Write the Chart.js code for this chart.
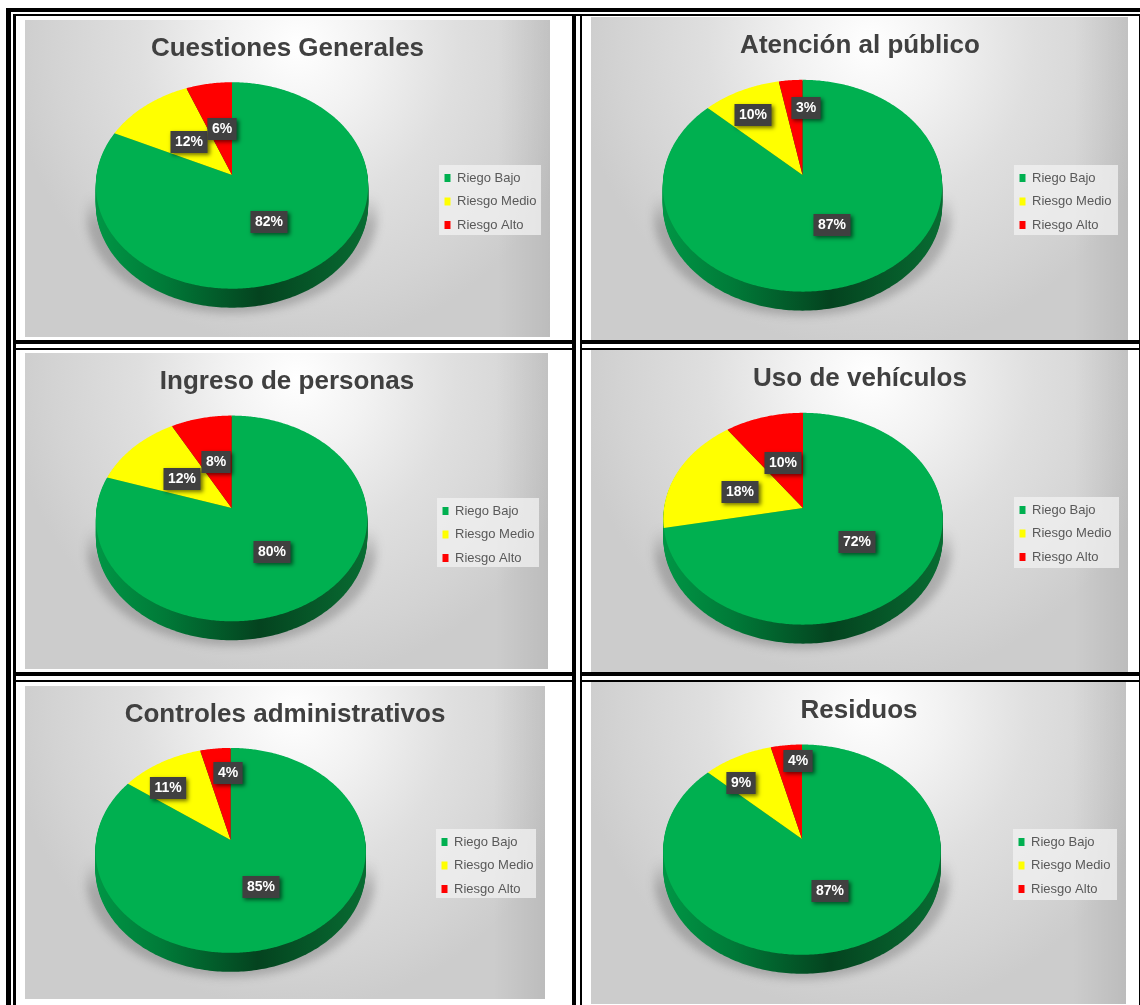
<!DOCTYPE html>
<html>
<head>
<meta charset="utf-8">
<style>
  html, body { margin: 0; padding: 0; background: #fff; overflow: hidden; }
  body { width: 1140px; height: 1005px; position: relative; }
  .line { position: absolute; background: #000; }
  .panel { position: absolute; background: linear-gradient(to right, rgba(0,0,0,0) 90%, rgba(0,0,0,0.08) 100%), radial-gradient(ellipse 55% 95% at 52% 8%, #ffffff 0%, #f2f2f2 25%, #dfdfdf 55%, #d3d3d3 85%, #cccccc 100%); }
</style>
</head>
<body>
<script src="https://cdn.jsdelivr.net/npm/chart.js@4"></script>
<script>
// Data, one list per chart
const categories = ['Riego Bajo', 'Riesgo Medio', 'Riesgo Alto'];
const titles = ['Cuestiones Generales', 'Atención al público', 'Ingreso de personas', 'Uso de vehículos', 'Controles administrativos', 'Residuos'];
const cuestiones = [82, 12, 6];
const atencion = [87, 10, 3];
const ingreso = [80, 12, 8];
const vehiculos = [72, 18, 10];
const controles = [85, 11, 4];
const residuos = [87, 9, 4];
const seriesValues = [cuestiones, atencion, ingreso, vehiculos, controles, residuos];
const sliceColors = ['#00b050', '#ffff00', '#ff0000'];

// Where things sit on the page
const panels = [
  { x: 25, y: 20, w: 525, h: 317, cx: 232, cy: 175, r: 135.5, titleX: 287.5, titleY: 47, legend: [439, 165, 102, 70], labels: [[269, 222], [189, 142], [222, 129]] },
  { x: 591, y: 17, w: 537, h: 323, cx: 802.5, cy: 175, r: 139, titleX: 860, titleY: 44, legend: [1014, 165, 104, 70], labels: [[832, 225], [753, 115], [806, 108]] },
  { x: 25, y: 353, w: 523, h: 316, cx: 231.6, cy: 508, r: 135, titleX: 287, titleY: 380, legend: [437, 498, 102, 69], labels: [[272, 552], [182, 479], [216, 462]] },
  { x: 591, y: 350, w: 537, h: 322, cx: 803, cy: 508, r: 139, titleX: 860, titleY: 377, legend: [1014, 497, 105, 71], labels: [[857, 542], [740, 492], [783, 463]] },
  { x: 25, y: 686, w: 520, h: 313, cx: 230.6, cy: 840, r: 134.5, titleX: 285, titleY: 713, legend: [436, 829, 100, 69], labels: [[261, 887], [168, 788], [228, 773]] },
  { x: 591, y: 682, w: 535, h: 322, cx: 802, cy: 839, r: 138, titleX: 859, titleY: 709, legend: [1013, 829, 104, 71], labels: [[830, 891], [741, 783], [798, 761]] }
];

// Black double lines of the table around the charts: x, y, w, h
const frameLines = [
  [6, 8, 1134, 4], [13, 14, 1127, 2],
  [6, 8, 5, 997], [13, 14, 3, 991],
  [572, 14, 4, 991], [580, 14, 2, 991], [1139, 14, 1, 991],
  [13, 340, 563, 4], [580, 340, 560, 4], [13, 348, 563, 2], [580, 348, 560, 2],
  [13, 672, 563, 4], [580, 672, 560, 4], [13, 680, 563, 2], [580, 680, 560, 2]
];

frameLines.forEach(function (l) {
  const d = document.createElement('div');
  d.className = 'line';
  d.style.cssText = 'left:' + l[0] + 'px;top:' + l[1] + 'px;width:' + l[2] + 'px;height:' + l[3] + 'px';
  document.body.appendChild(d);
});

const TILT = 0.754;      // how flat the pie lies
const PERSP = 0.1014;    // far edge smaller than near edge
const DEPTH = 19;
const TITLE_SIZE = 26;

// point on the pie for an angle in chart.js radians
function project(arc, angle, r) {
  const u = Math.cos(angle), v = -Math.sin(angle);
  const w = 1 + PERSP * v;
  return [arc.x + r * u / w, arc.y - r * TILT * v / w];
}

function outline(ctx, arc, dy) {
  ctx.beginPath();
  for (let a = 0; a < 360; a++) {
    const p = project(arc, a * Math.PI / 180, arc.outerRadius);
    if (a === 0) ctx.moveTo(p[0], p[1] + dy); else ctx.lineTo(p[0], p[1] + dy);
  }
  ctx.closePath();
}

const tiltedPie = {
  id: 'tiltedPie',
  afterLayout(chart, args, opts) {
    const p = opts.panel;
    const t = chart.titleBlock;
    t.left = 0;
    t.right = chart.width + 2 * (p.titleX - p.x - p.w / 2);
    t.top = p.titleY - p.y - TITLE_SIZE * 0.6 + 2;
    t.bottom = t.top + t.height;
    const l = chart.legend;
    l.left = p.legend[0] - p.x - 5;
    l.right = l.left + p.legend[2] + 30;
    l.top = p.legend[1] - p.y - 4;
    l.bottom = l.top + 200;
  },
  beforeDraw(chart, args, opts) {
    const p = opts.panel, ctx = chart.ctx;
    ctx.save();
    ctx.fillStyle = 'rgba(242,242,242,0.75)';
    ctx.fillRect(p.legend[0] - p.x, p.legend[1] - p.y, p.legend[2], p.legend[3]);
    ctx.restore();
  },
  beforeDatasetDraw(chart, args, opts) {
    const p = opts.panel, ctx = chart.ctx;
    const arcs = chart.getDatasetMeta(0).data;
    const first = arcs[0];
    const left = first.x - first.outerRadius, right = first.x + first.outerRadius;

    // soft shadow under the pie
    ctx.save();
    ctx.filter = 'blur(4px)';
    const sh = ctx.createLinearGradient(0, first.y + 20, 0, first.y + 50);
    sh.addColorStop(0, 'rgba(60,60,60,0)');
    sh.addColorStop(1, 'rgba(60,60,60,0.28)');
    ctx.fillStyle = sh;
    ctx.beginPath();
    ctx.ellipse(first.x, first.y + 40, first.outerRadius + 10, first.outerRadius * TILT - 4, 0, 0, Math.PI * 2);
    ctx.fill();
    ctx.restore();

    // side of the pie
    const side = ctx.createLinearGradient(left, 0, right, 0);
    side.addColorStop(0, '#009645');
    side.addColorStop(0.25, '#007a38');
    side.addColorStop(0.6, '#04431f');
    side.addColorStop(1, '#086c32');
    ctx.fillStyle = side;
    for (let d = DEPTH; d > 0; d--) {
      outline(ctx, first, d);
      ctx.fill();
    }

    // top face, slice angles come from the library's arc elements
    arcs.forEach(function (arc, i) {
      ctx.beginPath();
      ctx.moveTo(arc.x, arc.y);
      const steps = Math.max(2, Math.ceil((arc.endAngle - arc.startAngle) * 90));
      for (let s = 0; s <= steps; s++) {
        const q = project(arc, arc.startAngle + (arc.endAngle - arc.startAngle) * s / steps, arc.outerRadius);
        ctx.lineTo(q[0], q[1]);
      }
      ctx.closePath();
      ctx.fillStyle = sliceColors[i];
      ctx.fill();
    });

    // value labels
    ctx.font = 'bold 14px "Liberation Sans"';
    ctx.textAlign = 'center';
    ctx.textBaseline = 'middle';
    chart.data.datasets[0].data.forEach(function (v, i) {
      const text = v + '%';
      const w = ctx.measureText(text).width + 9;
      const lx = p.labels[i][0] - p.x, ly = p.labels[i][1] - p.y;
      ctx.save();
      ctx.shadowColor = 'rgba(0,0,0,0.55)';
      ctx.shadowBlur = 4;
      ctx.shadowOffsetX = 2;
      ctx.shadowOffsetY = 2;
      ctx.fillStyle = '#404040';
      ctx.fillRect(lx - w / 2, ly - 11, w, 22);
      ctx.restore();
      ctx.fillStyle = '#ffffff';
      ctx.fillText(text, lx, ly + 0.5);
    });
    return false;
  }
};

panels.forEach(function (p, i) {
  const box = document.createElement('div');
  box.className = 'panel';
  box.style.cssText = 'left:' + p.x + 'px;top:' + p.y + 'px;width:' + p.w + 'px;height:' + p.h + 'px';
  const canvas = document.createElement('canvas');
  box.appendChild(canvas);
  document.body.appendChild(box);

  // chart area is centred on the tip of the pie
  const titleHeight = TITLE_SIZE * 1.2;
  new Chart(canvas, {
    type: 'pie',
    data: {
      labels: categories,
      datasets: [{ data: seriesValues[i], backgroundColor: sliceColors, borderWidth: 0, radius: p.r }]
    },
    plugins: [tiltedPie],
    options: {
      responsive: true,
      maintainAspectRatio: false,
      animation: false,
      layout: {
        padding: {
          left: 0,
          top: 0,
          right: p.w - 2 * (p.cx - p.x),
          bottom: p.h - (2 * (p.cy - p.y) - titleHeight)
        }
      },
      plugins: {
        tooltip: { enabled: false },
        title: {
          display: true,
          text: titles[i],
          color: '#404040',
          padding: 0,
          font: { family: '"Liberation Sans"', size: TITLE_SIZE, weight: 'bold', lineHeight: 1.2 }
        },
        legend: {
          position: 'chartArea',
          align: 'start',
          labels: {
            boxWidth: 6,
            boxHeight: 8,
            padding: 10.5,
            color: '#595959',
            font: { family: '"Liberation Sans"', size: 13 }
          }
        },
        tiltedPie: { panel: p }
      }
    }
  });
});
</script>
</body>
</html>
